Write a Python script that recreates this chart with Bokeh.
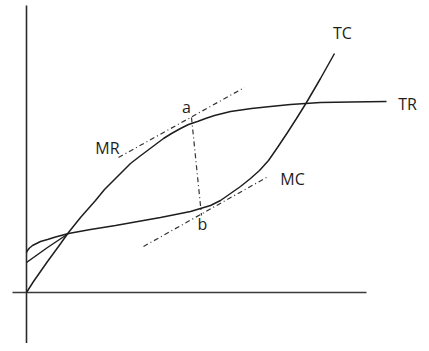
from bokeh.plotting import figure
from bokeh.models import Range1d
from bokeh.embed import file_html
from bokeh.resources import INLINE
from bokeh.core.properties import value

# Total revenue curve (quantity, value)
tr_x = [0, 0.7, 2.1, 3.2, 4.2, 5.4, 6.9, 7.8, 8.7, 9.6, 10.4, 11.3, 12.1, 12.9, 13.7,
        14.5, 15.4, 16.2, 17.1, 17.9, 18.8, 20.4, 22.5, 24.4, 26.4, 29.4, 32.4, 36.0]
tr_y = [0, 1.1, 3.1, 4.6, 6.0, 7.5, 9.2, 10.3, 11.2, 12.1, 12.9, 13.6, 14.2, 14.8, 15.4,
        15.9, 16.4, 16.8, 17.1, 17.4, 17.7, 18.1, 18.4, 18.6, 18.8, 19.0, 19.05, 19.1]

# Total cost curve
tc_x = [0, 0.1, 0.3, 0.6, 1.0, 1.4, 2.1, 2.9, 4.2, 6.4, 8.9, 11.7, 13.4, 14.9, 16.4,
        17.4, 18.4, 19.4, 20.4, 21.4, 22.4, 23.3, 24.2, 25.1, 26.1, 27.0, 28.0, 29.4, 30.8]
tc_y = [4.0, 4.2, 4.45, 4.7, 4.9, 5.1, 5.3, 5.55, 5.9, 6.3, 6.7, 7.2, 7.5, 7.8, 8.1,
        8.4, 8.7, 9.2, 9.9, 10.6, 11.4, 12.2, 13.2, 14.5, 16.0, 17.4, 19.0, 21.4, 23.9]

# second stroke of the cost curve near the vertical axis
tc2_x = [0, 2.1, 4.2]
tc2_y = [3.0, 4.5, 5.9]

# tangent lines (MR at a, MC at b) and the a-b connector
mr_x = [9.2, 21.8]
mr_y = [13.5, 20.5]
mc_x = [11.7, 24.0]
mc_y = [4.6, 11.5]
ab_x = [16.5, 17.5]
ab_y = [17.5, 7.7]

# axes
yaxis_x = [0, 0]
yaxis_y = [28.7, -5.3]
xaxis_x = [-1.4, 34.0]
xaxis_y = [0, 0]

# labels
label_text = ["TC", "TR", "a", "MR", "MC", "b"]
label_x = [31.6, 38.1, 16.0, 8.1, 26.6, 17.6]
label_y = [26.0, 18.9, 18.6, 14.5, 11.4, 6.9]

p = figure(width=421, height=343, output_backend="svg", toolbar_location=None,
           x_range=Range1d(-2.6, 39.5), y_range=Range1d(-5.1, 29.2),
           min_border=0)
p.axis.visible = False
p.grid.visible = False
p.outline_line_color = None
p.background_fill_color = "white"
p.border_fill_color = "white"

ink = "#1e1e1e"
p.line(yaxis_x, yaxis_y, line_color="#2b2b2b", line_width=1.6)
p.line(xaxis_x, xaxis_y, line_color="#3a3a3a", line_width=1.6)

p.line(tr_x, tr_y, line_color=ink, line_width=1.5)
p.line(tc_x, tc_y, line_color=ink, line_width=1.5)
p.line(tc2_x, tc2_y, line_color=ink, line_width=1.5)

dash = "5 3 1 3"
p.line(mr_x, mr_y, line_color="#333333", line_width=1.2, line_dash=dash)
p.line(mc_x, mc_y, line_color="#333333", line_width=1.2, line_dash=dash)
p.line(ab_x, ab_y, line_color="#333333", line_width=1.2, line_dash=dash)

p.text(x=label_x, y=label_y, text=label_text, text_font=value("Open Sans"),
       text_font_size="16px", text_color=ink, text_align="center",
       text_baseline="middle")

open("out.html", "w").write(file_html(p, INLINE))
